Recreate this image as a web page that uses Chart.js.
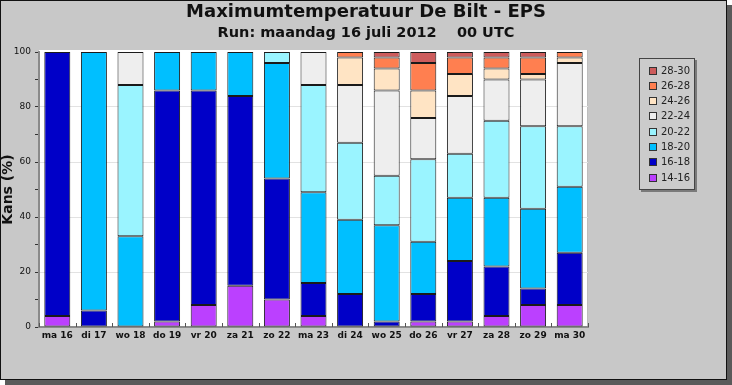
<!DOCTYPE html>
<html>
<head>
<meta charset="utf-8">
<script src="https://cdn.jsdelivr.net/npm/chart.js@4.4.1/dist/chart.umd.min.js"></script>
<style>
  html, body { margin: 0; padding: 0; background: #ffffff; width: 732px; height: 385px; overflow: hidden; }
  #frame { position: absolute; left: 0; top: 0; width: 725px; height: 378px; background: #c8c8c8; border: 1px solid #111; box-shadow: 5px 5px 0 #5a5a5a; }
  #wrap { position: absolute; left: 0; top: 0; width: 732px; height: 385px; }
</style>
</head>
<body>
<div id="frame"></div>
<div id="wrap"><canvas id="c" width="732" height="385"></canvas></div>
<script>
const categories = ['ma 16','di 17','wo 18','do 19','vr 20','za 21','zo 22','ma 23','di 24','wo 25','do 26','vr 27','za 28','zo 29','ma 30'];
const seriesLabels = ['14-16','16-18','18-20','20-22','22-24','24-26','26-28','28-30'];
const s14_16 = [4, 0, 0, 2, 8, 15, 10, 4, 0, 0, 2, 2, 4, 8, 8];
const s16_18 = [96, 6, 0, 84, 78, 69, 44, 12, 12, 2, 10, 22, 18, 6, 19];
const s18_20 = [0, 94, 33, 14, 14, 16, 42, 33, 27, 35, 19, 23, 25, 29, 24];
const s20_22 = [0, 0, 55, 0, 0, 0, 4, 39, 28, 18, 30, 16, 28, 30, 22];
const s22_24 = [0, 0, 12, 0, 0, 0, 0, 12, 21, 31, 15, 21, 15, 17, 23];
const s24_26 = [0, 0, 0, 0, 0, 0, 0, 0, 10, 8, 10, 8, 4, 2, 2];
const s26_28 = [0, 0, 0, 0, 0, 0, 0, 0, 2, 4, 10, 6, 4, 6, 2];
const s28_30 = [0, 0, 0, 0, 0, 0, 0, 0, 0, 2, 4, 2, 2, 2, 0];
const yTicks = [0, 20, 40, 60, 80, 100];

const seriesValues = [s14_16, s16_18, s18_20, s20_22, s22_24, s24_26, s26_28, s28_30];
const seriesColors = ['#bb40ff', '#0000c8', '#00bfff', '#9af4ff', '#eeeeee', '#ffe4c4', '#ff7f50', '#cd5c5c'];

Chart.defaults.font.family = "'DejaVu Sans', sans-serif";
Chart.defaults.color = '#111';

const datasets = seriesLabels.map((lab, i) => ({
  label: lab,
  data: seriesValues[i],
  backgroundColor: seriesColors[i],
  borderColor: '#1a1a1a',
  borderWidth: (ctx) => (ctx.raw ? 1 : 0),
  borderSkipped: false,
  categoryPercentage: 1.0,
  barPercentage: 0.71
}));

const framePlugin = {
  id: 'framePlugin',
  beforeDraw(chart) {
    const {ctx, chartArea: a} = chart;
    ctx.save();
    ctx.fillStyle = '#ffffff';
    ctx.fillRect(a.left, a.top - 2, a.right - a.left, a.bottom - a.top + 2);
    ctx.strokeStyle = '#bdbdbd';
    ctx.lineWidth = 1;
    ctx.beginPath();
    ctx.moveTo(a.right - 0.5, a.top - 2);
    ctx.lineTo(a.right - 0.5, a.bottom);
    ctx.stroke();
    ctx.restore();
  },
  afterDraw(chart) {
    const {ctx, chartArea: a} = chart;
    const xs = chart.scales.x;
    ctx.save();
    ctx.strokeStyle = '#555';
    ctx.lineWidth = 1;
    for (let i = 0; i <= categories.length; i++) {
      const px = Math.round(xs.getPixelForValue(i - 0.5)) + 0.5;
      ctx.beginPath();
      ctx.moveTo(px, a.bottom);
      ctx.lineTo(px, a.bottom - 4);
      ctx.stroke();
    }
    const lx = 639, ly = 58, lw = 56, lh = 132;
    ctx.fillStyle = '#7a7a7a';
    ctx.fillRect(lx + 2, ly + 2, lw, lh);
    ctx.fillStyle = '#cbcbcb';
    ctx.fillRect(lx, ly, lw, lh);
    ctx.strokeStyle = '#444';
    ctx.lineWidth = 1;
    ctx.strokeRect(lx + 0.5, ly + 0.5, lw - 1, lh - 1);
    ctx.font = "10px 'DejaVu Sans', sans-serif";
    ctx.textBaseline = 'middle';
    ctx.textAlign = 'left';
    const ds = chart.data.datasets.slice().reverse();
    ds.forEach((d, i) => {
      const cy = 70.5 + i * 15.3;
      ctx.fillStyle = d.backgroundColor;
      ctx.fillRect(649, Math.round(cy - 4), 8, 8);
      ctx.strokeStyle = '#333';
      ctx.strokeRect(649.5, Math.round(cy - 4) + 0.5, 7, 7);
      ctx.fillStyle = '#222';
      ctx.fillText(d.label, 661, cy + 0.5);
    });
    ctx.restore();
  }
};

new Chart(document.getElementById('c'), {
  type: 'bar',
  data: { labels: categories, datasets },
  plugins: [framePlugin],
  options: {
    responsive: false,
    animation: false,
    layout: { padding: { left: 0, right: 0, top: 0, bottom: 0 } },
    plugins: {
      legend: { display: false },
      tooltip: { enabled: false },
      title: {
        display: true,
        text: 'Maximumtemperatuur De Bilt - EPS',
        font: { size: 18, weight: 'bold', lineHeight: 1.2 },
        color: '#111',
        padding: { top: 2, bottom: 0 }
      },
      subtitle: {
        display: true,
        text: 'Run: maandag 16 juli 2012    00 UTC',
        font: { size: 14.5, weight: 'bold', lineHeight: 1.2 },
        color: '#111',
        padding: { top: 1.3, bottom: 9.7 }
      }
    },
    scales: {
      x: {
        stacked: true,
        offset: true,
        grid: { display: false, drawTicks: false },
        border: { display: true, color: '#8a8a8a', width: 2 },
        ticks: { font: { size: 9, weight: 'bold' }, color: '#111', padding: 3, maxRotation: 0, autoSkip: false },
        afterFit: (s) => { s.height = 58; }
      },
      y: {
        stacked: true,
        min: 0,
        max: 100,
        afterBuildTicks: (s) => {
          const t = [];
          for (let v = 0; v <= 100; v += 10) t.push({ value: v });
          s.ticks = t;
        },
        ticks: {
          font: { size: 9 },
          color: '#111',
          padding: 4,
          callback: (v) => (yTicks.includes(v) ? String(v) : '')
        },
        grid: {
          color: (c) => (c.tick && c.tick.value % 20 === 0 && c.tick.value > 0 && c.tick.value < 100 ? '#e2e2e2' : 'rgba(0,0,0,0)'),
          tickColor: '#333',
          tickLength: 4
        },
        border: { display: true, color: '#8a8a8a', width: 2 },
        title: {
          display: true,
          text: 'Kans (%)',
          font: { size: 14, weight: 'bold' },
          color: '#111',
          padding: { top: 0, bottom: 0 }
        },
        afterFit: (s) => { s.width = 39; }
      },
      y2: {
        position: 'right',
        display: true,
        grid: { display: false, drawTicks: false },
        border: { display: false },
        ticks: { display: false },
        afterFit: (s) => { s.width = 144; }
      }
    }
  }
});
</script>
</body>
</html>
